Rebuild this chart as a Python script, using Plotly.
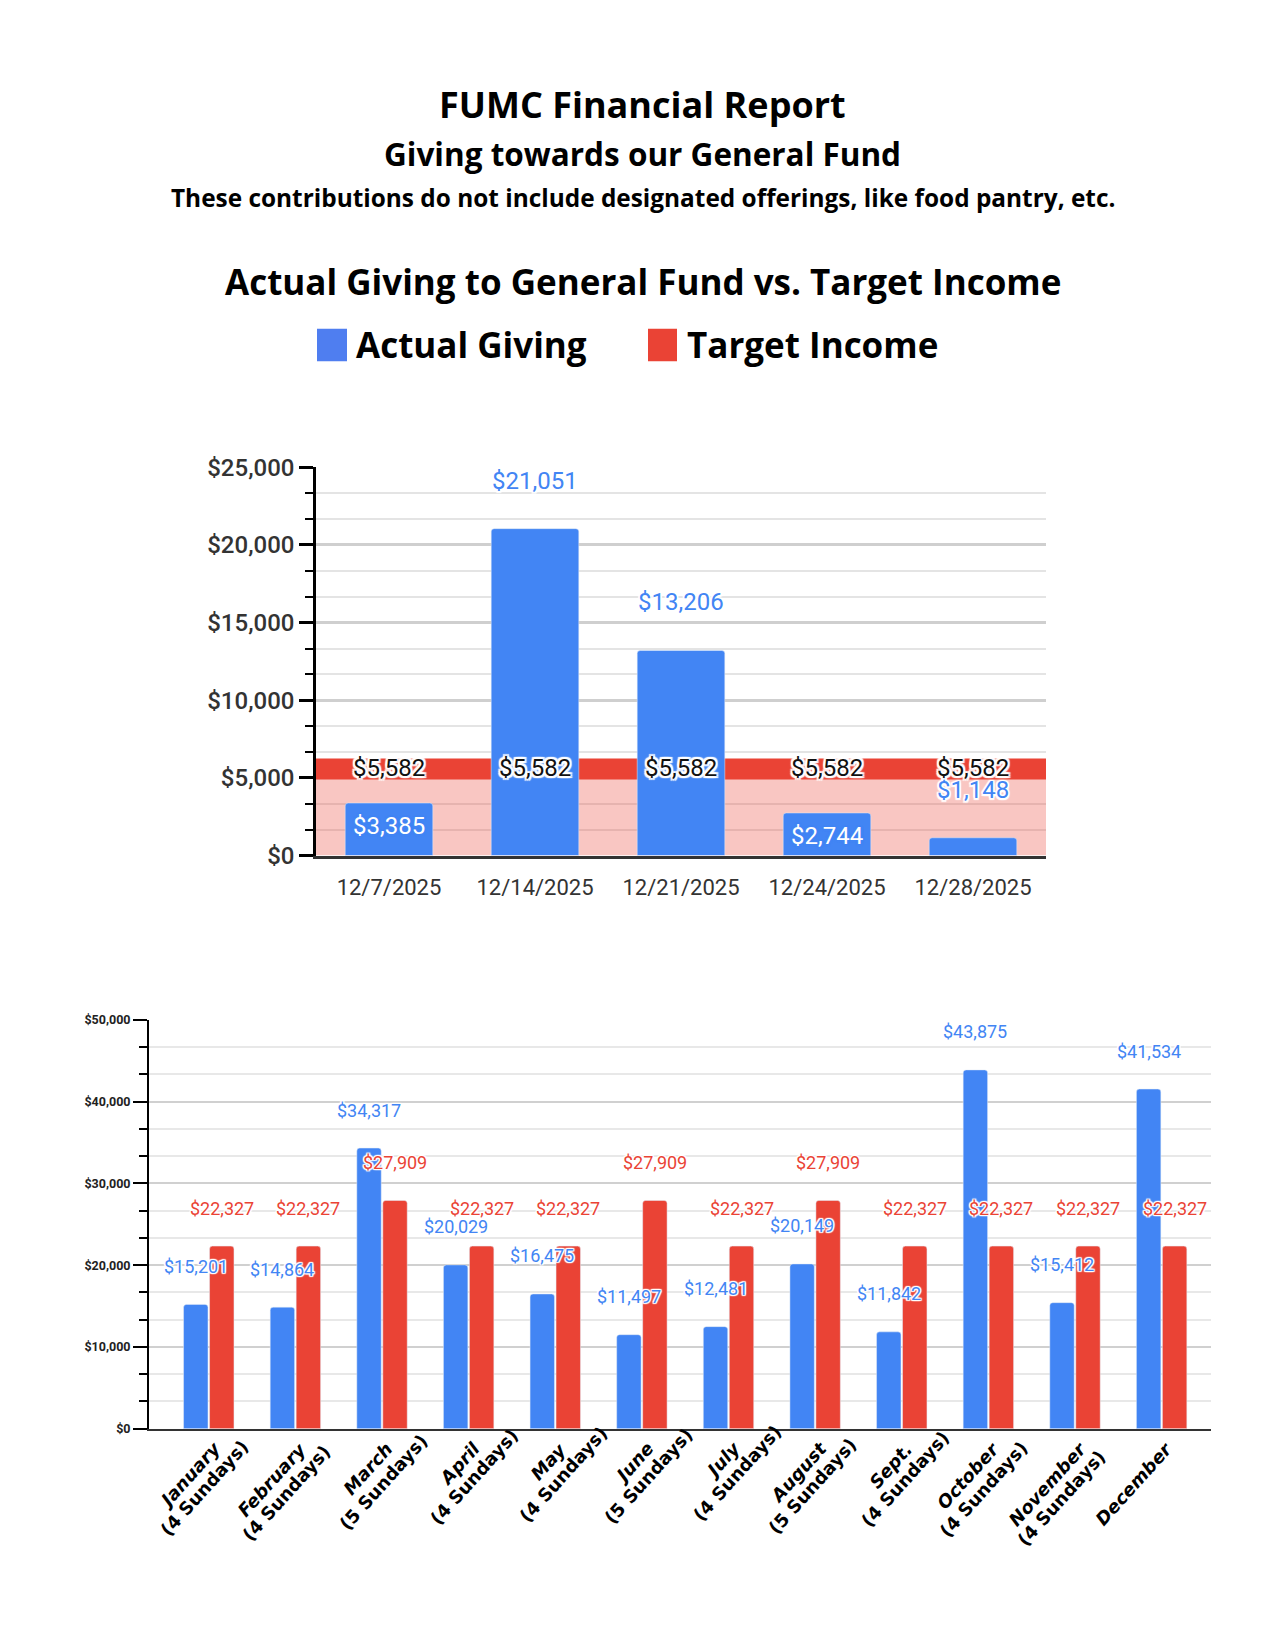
import math
import plotly.graph_objects as go

# ---------------- data ----------------
weeks = ["12/7/2025", "12/14/2025", "12/21/2025", "12/24/2025", "12/28/2025"]
weekly_actual = [3385, 21051, 13206, 2744, 1148]
weekly_target = [5582, 5582, 5582, 5582, 5582]

months = ["January", "February", "March", "April", "May", "June", "July",
          "August", "Sept.", "October", "November", "December"]
month_sundays = ["(4 Sundays)", "(4 Sundays)", "(5 Sundays)", "(4 Sundays)", "(4 Sundays)",
                 "(5 Sundays)", "(4 Sundays)", "(5 Sundays)", "(4 Sundays)", "(4 Sundays)",
                 "(4 Sundays)", ""]
monthly_actual = [15201, 14864, 34317, 20029, 16475, 11497, 12481, 20149, 11842, 43875, 15412, 41534]
monthly_target = [22327, 22327, 27909, 22327, 22327, 27909, 22327, 27909, 22327, 22327, 22327, 22327]

# ---------------- style ----------------
BLUE = "#4285f4"
RED = "#ea4335"
PINK = "rgba(234,67,53,0.30)"
LEG_BLUE = "#4f7ef0"
HEAD_FONT = "Open Sans"
W, H = 1275, 1650
weekly_label_inside = [True, False, False, True, False]
CX = 0.498  # horizontal centre of the header block

# approximate DejaVu Sans Bold advance widths (units per em = 2048)
ADV = {" ": 713, "(": 938, ")": 938, ".": 780, "4": 1425, "5": 1425,
       "A": 1585, "D": 1700, "F": 1300, "J": 760, "M": 2030, "N": 1720, "O": 1750, "S": 1470,
       "a": 1380, "b": 1470, "c": 1220, "d": 1470, "e": 1390, "g": 1470, "h": 1460, "i": 700,
       "l": 700, "m": 2140, "n": 1460, "o": 1410, "p": 1470, "r": 1010, "s": 1220, "t": 980,
       "u": 1460, "v": 1330, "y": 1330}


def text_width(s, size):
    return sum(ADV.get(c, 1300) for c in s) * size / 2048


def halo(color, r=1.5):
    return ", ".join(f"{dx}px {dy}px 1px {color}" for dx, dy in
                     [(r, 0), (-r, 0), (0, r), (0, -r), (r, r), (-r, -r), (r, -r), (-r, r)])


fig = go.Figure()

# top chart bars
fig.add_trace(go.Bar(x=weeks, y=weekly_actual, marker_color=BLUE, width=0.6,
                     xaxis="x", yaxis="y", showlegend=False, hoverinfo="skip"))
# bottom chart bars
fig.add_trace(go.Bar(x=months, y=monthly_actual, marker_color=BLUE, name="Actual Giving",
                     xaxis="x2", yaxis="y2", showlegend=False))
fig.add_trace(go.Bar(x=months, y=monthly_target, marker_color=RED, name="Target Income",
                     xaxis="x2", yaxis="y2", showlegend=False))

shapes = []
annotations = []

# target area + band in the top chart (paths through the category positions)
n = len(weekly_target)
step_pts = []
for i, t in enumerate(weekly_target):
    step_pts += [(i - 0.5, t), (i + 0.5, t)]
line_path = "M " + " L ".join(f"{x},{y}" for x, y in step_pts)
fill_path = "M -0.5,0 L " + " L ".join(f"{x},{y}" for x, y in step_pts) + f" L {n - 0.5},0 Z"
shapes.append(dict(type="path", xref="x", yref="y", path=fill_path,
                   fillcolor=PINK, line=dict(width=0), layer="between"))
shapes.append(dict(type="path", xref="x", yref="y", path=line_path,
                   line=dict(color=RED, width=21), layer="between"))

# top chart labels
for i, (wk, v, t) in enumerate(zip(weeks, weekly_actual, weekly_target)):
    if weekly_label_inside[i]:
        annotations.append(dict(x=wk, y=v, xref="x", yref="y", text=f"${v:,}", showarrow=False,
                                yshift=-23, font=dict(family="Roboto", size=24, color="white",
                                                      shadow=halo(BLUE))))
    else:
        annotations.append(dict(x=wk, y=v, xref="x", yref="y", text=f"${v:,}", showarrow=False,
                                yshift=48, font=dict(family="Roboto", size=24, color=BLUE,
                                                     shadow=halo("white"))))
    annotations.append(dict(x=wk, y=t, xref="x", yref="y", text=f"${t:,}", showarrow=False,
                            yshift=1, font=dict(family="Roboto", size=24, color="#111111",
                                                shadow=halo("white", 2))))

# bottom chart value labels
bargap, bargroupgap = 0.4, 0.06
off = (1 - bargap) / 4
for i, (a, t) in enumerate(zip(monthly_actual, monthly_target)):
    annotations.append(dict(x=i - off, y=a, xref="x2", yref="y2", text=f"${a:,}", showarrow=False,
                            yshift=38, font=dict(family="Roboto", size=18, color=BLUE,
                                                 shadow=halo("white", 1.2))))
    annotations.append(dict(x=i + off, y=t, xref="x2", yref="y2", text=f"${t:,}", showarrow=False,
                            yshift=38, font=dict(family="Roboto", size=18, color=RED,
                                                 shadow=halo("white", 1.2))))

# bottom chart category labels: rotated, first line end-anchored at the tick,
# second line centred under the first
ANG = 48
LBL_SIZE = 18
ux, uy = math.cos(math.radians(ANG)), -math.sin(math.radians(ANG))
px_, py_ = math.sin(math.radians(ANG)), math.cos(math.radians(ANG))
E1 = (7, 17)
LINE = 20
for i, (m, s) in enumerate(zip(months, month_sundays)):
    w1 = text_width(m, LBL_SIZE)
    c1 = (E1[0] - w1 / 2 * ux, E1[1] - w1 / 2 * uy)
    annotations.append(dict(x=i, y=0, xref="x2", yref="y2", text=f"<b><i>{m}</i></b>",
                            showarrow=False, textangle=-ANG, xanchor="center", yanchor="middle",
                            xshift=c1[0], yshift=-c1[1],
                            font=dict(family="DejaVu Sans", size=LBL_SIZE, color="black")))
    if s:
        c2 = (c1[0] + LINE * px_, c1[1] + LINE * py_)
        annotations.append(dict(x=i, y=0, xref="x2", yref="y2", text=f"<b>{s}</b>",
                                showarrow=False, textangle=-ANG, xanchor="center", yanchor="middle",
                                xshift=c2[0], yshift=-c2[1],
                                font=dict(family="DejaVu Sans", size=LBL_SIZE, color="black")))


def paper_y(px):
    return 1 - px / H


def paper_x(px):
    return px / W


def head(text, y, size, x=CX, xanchor="center"):
    return dict(x=x, y=paper_y(y), xref="paper", yref="paper", showarrow=False,
                xanchor=xanchor, yanchor="middle", text=text,
                font=dict(family=HEAD_FONT, size=size, color="black", weight=700))


annotations += [
    head("FUMC Financial Report", 84, 36),
    head("Giving towards our General Fund", 134, 31.5),
    head("These contributions do not include designated offerings, like food pantry, etc.", 179, 24.4),
    head("Actual Giving to General Fund vs. Target Income", 264, 35),
    head("Actual Giving", 328, 35, x=paper_x(346), xanchor="left"),
    head("Target Income", 328, 35, x=paper_x(677), xanchor="left"),
]
shapes += [
    dict(type="rect", xref="paper", yref="paper", x0=paper_x(309), x1=paper_x(339),
         y0=paper_y(345), y1=paper_y(312), fillcolor=LEG_BLUE, line=dict(width=0)),
    dict(type="rect", xref="paper", yref="paper", x0=paper_x(640), x1=paper_x(669),
         y0=paper_y(345), y1=paper_y(312), fillcolor=RED, line=dict(width=0)),
]

fig.update_layout(
    width=W, height=H,
    margin=dict(l=0, r=0, t=0, b=0),
    paper_bgcolor="white", plot_bgcolor="white",
    barmode="group", bargap=bargap, bargroupgap=bargroupgap, barcornerradius=3,
    shapes=shapes, annotations=annotations,
    xaxis=dict(domain=[308 / W, 1038 / W], anchor="y", type="category", range=[-0.5, 4.5],
               showgrid=False, showline=True, linecolor="#333333", linewidth=2.5,
               ticks="", ticklabelstandoff=10,
               tickfont=dict(family="Roboto", size=22, color="#333333")),
    yaxis=dict(domain=[1 - 848 / H, 1 - 453 / H], anchor="x", range=[0, 25000],
               tick0=0, dtick=5000, tickformat="$,.0f",
               showline=True, linecolor="black", linewidth=2.5,
               ticks="outside", ticklen=14, tickwidth=2.5, tickcolor="black",
               showgrid=True, gridcolor="#cfcfcf", gridwidth=2.5, zeroline=False,
               tickfont=dict(family="Roboto", size=24, color="#333333", weight=500),
               minor=dict(tick0=0, dtick=5000 / 3, ticks="outside", ticklen=8, tickwidth=2,
                          tickcolor="black", showgrid=True, gridcolor="#e4e4e4", gridwidth=2)),
    xaxis2=dict(domain=[141 / W, 1203 / W], anchor="y2", type="category", range=[-0.69, 11.57],
                showgrid=False, showline=True, linecolor="#333333", linewidth=2,
                ticks="", showticklabels=False),
    yaxis2=dict(domain=[1 - 1431 / H, 1 - 1015 / H], anchor="x2", range=[0, 50000],
                tick0=0, dtick=10000, tickformat="$,.0f",
                showline=True, linecolor="black", linewidth=2,
                ticks="outside", ticklen=14, tickwidth=2, tickcolor="black",
                showgrid=True, gridcolor="#d0d0d0", gridwidth=2, zeroline=False,
                tickfont=dict(family="Roboto", size=12.5, color="#222222", weight=700),
                minor=dict(tick0=0, dtick=10000 / 3, ticks="outside", ticklen=8, tickwidth=1.5,
                           tickcolor="black", showgrid=True, gridcolor="#e8e8e8", gridwidth=1.5)),
)

fig.write_html("out.html")
